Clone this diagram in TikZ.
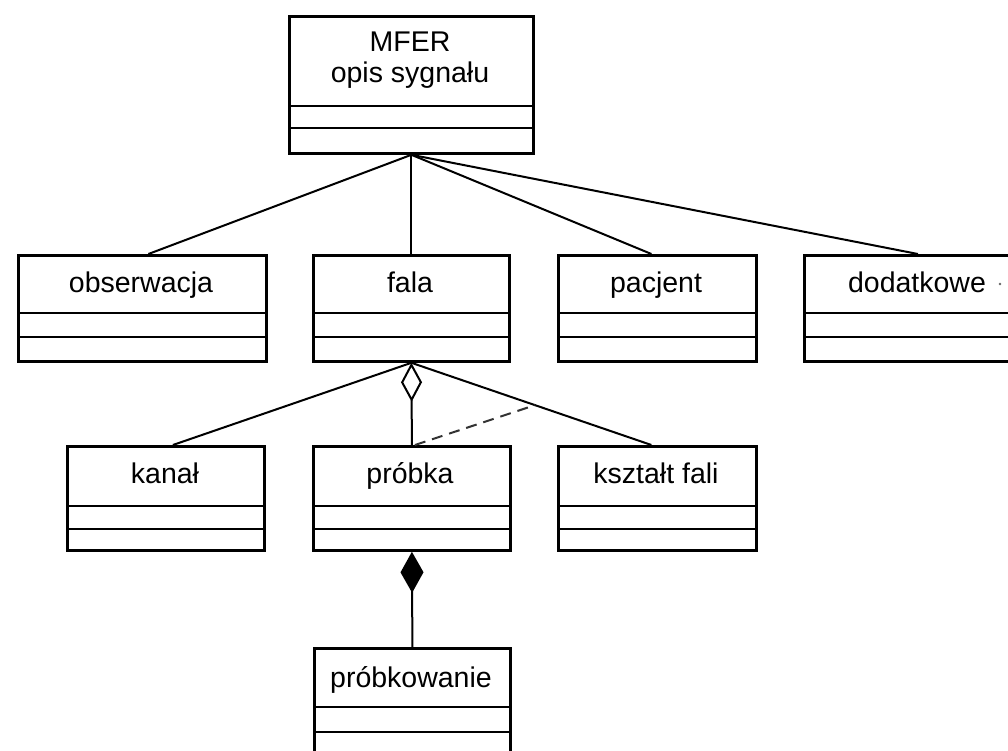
\documentclass[tikz,border=0pt]{standalone}
\usepackage{fontspec}
\setmainfont{Liberation Sans}
\usetikzlibrary{arrows.meta,calc}

\tikzset{
  classbox/.style={draw, line width=2.8pt, inner sep=0pt, anchor=north west},
  classname/.style={anchor=base, font=\fontsize{28.5}{31}\selectfont, inner sep=0pt},
  divider/.style={line width=2.8pt},
  link/.style={line width=2pt},
  aggregation/.style={link, {Diamond[length=39pt, width=21pt, fill=white, line width=2pt]}-},
  composition/.style={link, {Diamond[length=41pt, width=23pt, fill=black]}-},
  dependency/.style={link, dash pattern=on 11pt off 7pt, draw=black!80},
}

% UML class box: name, x1, y1, x2, y2, first divider y, second divider y
\newcommand\umlclass[7]{%
  \node[classbox, minimum width={#4-#2}, minimum height={#5-#3}] (#1) at (#2,#3) {};
  \draw[divider] (#2,#6) -- (#4,#6);
  \draw[divider] (#2,#7) -- (#4,#7);
}

\begin{document}
\begin{tikzpicture}[x=1pt, y=-1pt]
  \useasboundingbox (0,0) rectangle (1008,751);
  \clip (0,0) rectangle (1008,751);
  \fill[white] (0,0) rectangle (1008,751);

  % top class
  \umlclass{mfer}{288}{15}{532}{152}{106}{128}
  \node[classname] (mfer-t1) at (410,52) {MFER};
  \node[classname] (mfer-t2) at (410,83) {opis sygnału};

  % first row
  \umlclass{obs}{17}{254}{265}{360}{313}{337}
  \node[classname] (obs-t) at (141,292) {obserwacja};
  \umlclass{fala}{312}{254}{508}{360}{313}{337}
  \node[classname] (fala-t) at (410,292) {fala};
  \umlclass{pac}{557}{254}{755}{360}{313}{337}
  \node[classname] (pac-t) at (656,292) {pacjent};
  \umlclass{dod}{803}{254}{1030}{360}{313}{337}
  \node[classname] (dod-t) at (917,292) {dodatkowe};
  \fill[black!60] (1000,284) circle (1.3pt);

  % second row
  \umlclass{kanal}{66}{445}{263}{549}{506}{529}
  \node[classname] (kanal-t) at (165,483) {kanał};
  \umlclass{probka}{312}{445}{509}{549}{506}{529}
  \node[classname] (probka-t) at (410,483) {próbka};
  \umlclass{kszt}{557}{445}{755}{549}{506}{529}
  \node[classname] (kszt-t) at (656,483) {kształt fali};

  % third row
  \umlclass{probkow}{313}{647}{509}{770}{707}{732}
  \node[classname] (probkow-t) at (411,687) {próbkowanie};

  % associations from the top class
  \draw[link] (mfer.south) -- ([xshift=6pt]obs.north);
  \draw[link] (mfer.south) -- (fala.north);
  \draw[link] (mfer.south) -- ([xshift=-6pt]pac.north);
  \draw[link] (mfer.south) -- (dod.north);

  % parts of fala
  \coordinate (kanal-in) at ([xshift=7pt]kanal.north);
  \coordinate (kszt-in) at ([xshift=-6pt]kszt.north);
  \draw[link] (fala.south) -- (kanal-in);
  \draw[link] (fala.south) -- (kszt-in);
  \coordinate (assoc) at ($(fala.south)!0.515!(kszt-in)$);
  \draw[dependency] ([xshift=3pt]probka.north) -- (assoc);
  \draw[aggregation] (fala.south) -- (probka.north);

  % probka is composed of probkowanie
  \draw[composition] (probka.south) -- (probkow.north);
\end{tikzpicture}
\end{document}
